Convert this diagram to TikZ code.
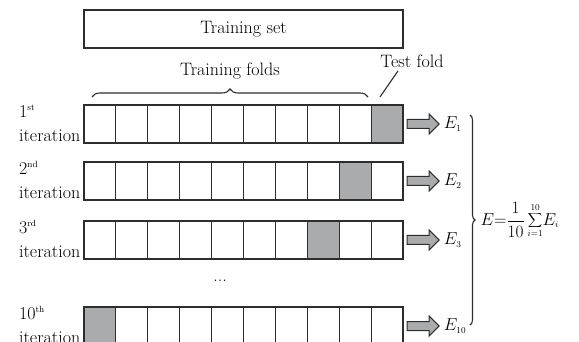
\documentclass[tikz,border=0pt]{standalone}
\usepackage{tikz}
\usetikzlibrary{positioning,shapes.arrows,decorations.pathreplacing}

\definecolor{foldgray}{RGB}{170,171,173}
\definecolor{edge}{RGB}{45,45,45}
\newcommand{\ordmark}[1]{\raisebox{7pt}{\fontsize{9}{9}\selectfont #1}}

\begin{document}
\begin{tikzpicture}[
        x=1pt, y=-1pt,
        every node/.style={font=\fontsize{18}{18}\selectfont},
        cell/.style={draw=edge, line width=1.1pt, minimum width=31.9pt, minimum height=38pt, inner sep=0pt},
        testcell/.style={cell, fill=foldgray},
        blk/.style={single arrow, draw=edge, fill=foldgray, line width=1pt, inner xsep=0pt, inner ysep=4pt,
                    minimum height=32pt, minimum width=19pt, single arrow head extend=5.5pt},
        brc/.style={draw=edge, line width=1.1pt, decorate, decoration={brace, amplitude=#1}}
    ]
    \useasboundingbox (0,0) rectangle (579,342);
    \node[draw=edge, line width=1.1pt, minimum width=319pt, minimum height=38pt] (set) at (243.5,29) {Training set};
    % the four iterations
    \foreach \row/\yc/\t/\ord in {1/124/10/st, 2/181/9/nd, 3/240/8/rd, 10/326/1/th} {
        \foreach \i in {1,...,10}
            \node[cell] (r\row-\i) at ({84+31.9*(\i-.5)},\yc) {};
        \node[testcell] (t\row) at (r\row-\t) {};
        \node[anchor=base east, inner sep=3pt] (it\row) at ([yshift=2pt]r\row-1.south west) {iteration};
        \node[anchor=base west, inner sep=3pt] (o\row) at ([yshift=24pt]it\row.base west) {\row\ordmark{\ord}};
        \node[blk, right=3pt of r\row-10] (a\row) {};
        \node[right=4pt of a\row, inner sep=0pt] (e\row) {$E_{\scriptscriptstyle\row}$};
    }
    \node (dots) at (220,281) {...};
    % braces
    \coordinate (fl) at (92,97);
    \coordinate (fr) at (368,97);
    \draw[brc=8pt] (fl) -- (fr) node[midway, above=14pt] (folds) {Training folds};
    \node (tf) at (412,61) {Test fold};
    \coordinate (tfend) at (380,97);
    \draw[edge, line width=1.1pt] ([xshift=-14pt]tf.south) -- (tfend);
    \coordinate (btop) at (470,115);
    \coordinate (bbot) at (470,325);
    \draw[brc=5pt] (btop) -- (bbot) node[midway, right=10pt, inner sep=0pt] (err)
        {$E{=}\displaystyle\frac{1}{10}\sum_{\scriptscriptstyle i=1}^{\scriptscriptstyle 10}\!E_{\scriptscriptstyle i}$};
\end{tikzpicture}
\end{document}
